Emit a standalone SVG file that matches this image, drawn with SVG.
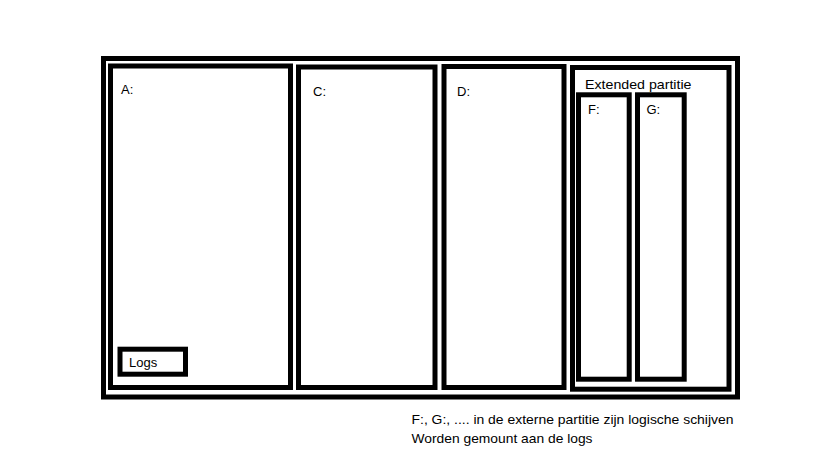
<svg xmlns="http://www.w3.org/2000/svg" width="819" height="460" viewBox="0 0 819 460">
<style>
.box{fill:none;stroke:#000;stroke-width:5}
.lbl{font-family:"Liberation Sans",Arial,sans-serif;font-size:13px;fill:#000}
</style>
<rect x="0" y="0" width="819" height="460" fill="#fff"/>
<g id="disk">
<rect class="box" x="103.5" y="58.5" width="634" height="338.5"/>
</g>
<g id="partition-A">
<rect class="box" x="110.5" y="66" width="180" height="321.5"/>
<text class="lbl" x="121" y="93.5">A:</text>
</g>
<g id="logs">
<rect class="box" x="120" y="349.2" width="65.5" height="25"/>
<text class="lbl" x="129" y="367">Logs</text>
</g>
<g id="partition-C">
<rect class="box" x="298.5" y="67" width="136.5" height="320.5"/>
<text class="lbl" x="313" y="96">C:</text>
</g>
<g id="partition-D">
<rect class="box" x="444" y="66.5" width="120" height="321"/>
<text class="lbl" x="457" y="96">D:</text>
</g>
<g id="extended">
<rect class="box" x="572.5" y="67.5" width="156.5" height="321.7"/>
<text class="lbl" x="585" y="89" textLength="106.5" lengthAdjust="spacingAndGlyphs">Extended partitie</text>
</g>
<g id="partition-F">
<rect class="box" x="578.5" y="94.8" width="50.7" height="284.4"/>
<text class="lbl" x="588" y="114">F:</text>
</g>
<g id="partition-G">
<rect class="box" x="637.5" y="94.8" width="46.7" height="284.4"/>
<text class="lbl" x="646.5" y="114">G:</text>
</g>
<g id="note">
<text class="lbl" x="411.5" y="423.5" textLength="322" lengthAdjust="spacingAndGlyphs">F:, G:, .... in de externe partitie zijn logische schijven</text>
<text class="lbl" x="411.5" y="443" textLength="181" lengthAdjust="spacingAndGlyphs">Worden gemount aan de logs</text>
</g>
</svg>
